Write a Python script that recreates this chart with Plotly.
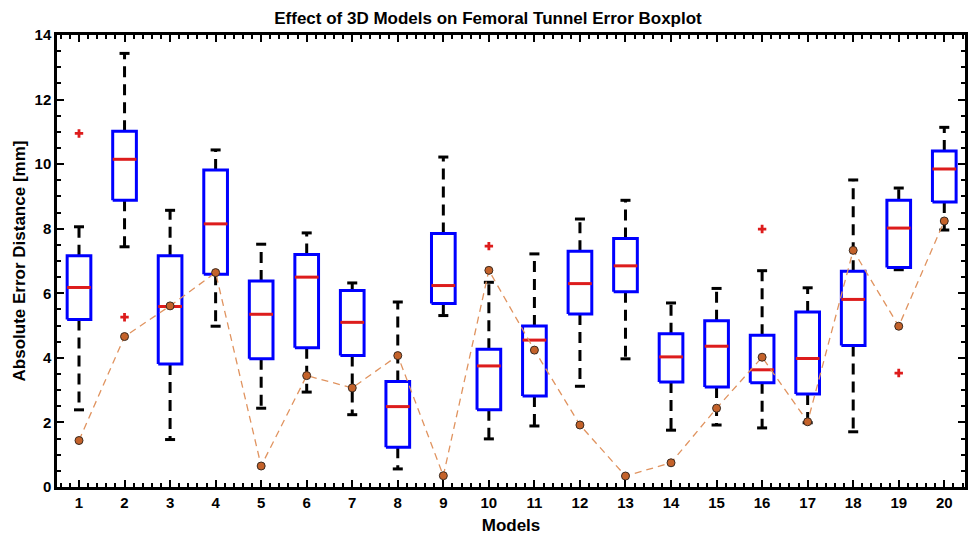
import plotly.graph_objects as go

models = list(range(1, 21))
upper_whisker = [8.06, 13.43, 8.57, 10.44, 7.52, 7.87, 6.32, 5.73, 10.22, 6.34,
                 7.22, 8.30, 8.88, 5.70, 6.15, 6.70, 6.17, 9.51, 9.26, 11.14]
q3 = [7.16, 11.02, 7.16, 9.82, 6.38, 7.20, 6.09, 3.27, 7.85, 4.27,
      4.99, 7.30, 7.70, 4.75, 5.15, 4.70, 5.42, 6.68, 8.88, 10.41]
median = [6.18, 10.15, 5.59, 8.15, 5.35, 6.50, 5.10, 2.49, 6.24, 3.75,
          4.55, 6.30, 6.85, 4.03, 4.36, 3.63, 3.98, 5.81, 8.02, 9.85]
q1 = [5.19, 8.88, 3.81, 6.59, 3.97, 4.31, 4.07, 1.23, 5.68, 2.39,
      2.82, 5.36, 6.05, 3.25, 3.10, 3.23, 2.88, 4.38, 6.80, 8.83]
lower_whisker = [2.39, 7.44, 1.47, 4.98, 2.44, 2.94, 2.24, 0.56, 5.31, 1.49,
                 1.89, 3.12, 3.97, 1.76, 1.92, 1.83, 1.99, 1.71, 6.73, 7.96]
outlier_models = [1, 2, 10, 16, 19]
outlier_values = [10.95, 5.26, 7.46, 7.99, 3.53]
model_3d_values = [1.44, 4.66, 5.61, 6.64, 0.65, 3.45, 3.07, 4.07, 0.35, 6.71,
                   4.24, 1.92, 0.34, 0.75, 2.44, 4.02, 2.02, 7.33, 4.98, 8.24]

BOX_HALF = 0.26
CAP_HALF = 0.11

wx, wy, cx, cy, bx, by, mx, my = [], [], [], [], [], [], [], []
for i, m in enumerate(models):
    wx += [m, m, None, m, m, None]
    wy += [q3[i], upper_whisker[i], None, q1[i], lower_whisker[i], None]
    cx += [m - CAP_HALF, m + CAP_HALF, None, m - CAP_HALF, m + CAP_HALF, None]
    cy += [upper_whisker[i], upper_whisker[i], None, lower_whisker[i], lower_whisker[i], None]
    bx += [m - BOX_HALF, m + BOX_HALF, m + BOX_HALF, m - BOX_HALF, m - BOX_HALF, None]
    by += [q1[i], q1[i], q3[i], q3[i], q1[i], None]
    mx += [m - BOX_HALF, m + BOX_HALF, None]
    my += [median[i], median[i], None]

fig = go.Figure()
fig.add_trace(go.Scatter(x=wx, y=wy, mode="lines",
                         line=dict(color="black", width=3, dash="11px,7px"),
                         hoverinfo="skip"))
fig.add_trace(go.Scatter(x=cx, y=cy, mode="lines",
                         line=dict(color="black", width=3), hoverinfo="skip"))
fig.add_trace(go.Scatter(x=bx, y=by, mode="lines",
                         line=dict(color="#0000FF", width=3), hoverinfo="skip"))
fig.add_trace(go.Scatter(x=mx, y=my, mode="lines",
                         line=dict(color="#DD1C1C", width=3), hoverinfo="skip"))
fig.add_trace(go.Scatter(x=outlier_models, y=outlier_values, mode="markers",
                         marker=dict(symbol="cross", size=7, color="#DD1C1C",
                                     line=dict(width=0))))
fig.add_trace(go.Scatter(x=models, y=model_3d_values, mode="lines+markers",
                         line=dict(color="#E0935F", width=1.3, dash="7px,5px"),
                         marker=dict(symbol="circle", size=8, color="#C4622A",
                                     line=dict(color="#3A2A20", width=1))))

font_family = "Liberation Sans, Arial, sans-serif"
fig.update_layout(
    width=976, height=538,
    margin=dict(l=57, r=11, t=35, b=51, autoexpand=False),
    paper_bgcolor="white", plot_bgcolor="white",
    showlegend=False,
    font=dict(family=font_family, color="black"),
    title=dict(text="Effect of 3D Models on Femoral Tunnel Error Boxplot",
               x=0.5, xanchor="center", y=0.966, yanchor="middle",
               font=dict(size=17, weight="bold", color="black", family=font_family)),
)
fig.update_xaxes(
    range=[0.517, 20.455], tickmode="array", tickvals=models,
    ticktext=[str(m) for m in models],
    ticks="inside", ticklen=7, tickwidth=2, tickcolor="black",
    minor=dict(ticks="inside", dtick=0.2, tick0=0, ticklen=4, tickwidth=1.5,
               tickcolor="black", showgrid=False),
    showline=True, linecolor="black", linewidth=2.5, mirror="allticks",
    showgrid=False, zeroline=False, automargin=False,
    tickfont=dict(size=15, weight="bold", family=font_family),
    title=dict(text="Models", font=dict(size=17, weight="bold", family=font_family),
               standoff=10),
)
fig.update_yaxes(
    range=[0, 14], tickmode="linear", tick0=0, dtick=2,
    ticks="inside", ticklen=7, tickwidth=2, tickcolor="black",
    minor=dict(ticks="inside", dtick=0.5, tick0=0, ticklen=4, tickwidth=1.5,
               tickcolor="black", showgrid=False),
    showline=True, linecolor="black", linewidth=2.5, mirror="allticks",
    showgrid=False, zeroline=False, automargin=False,
    tickfont=dict(size=15, weight="bold", family=font_family),
    title=dict(text="Absolute Error Distance [mm]",
               font=dict(size=17, weight="bold", family=font_family), standoff=5),
)

fig.write_html("out.html")
